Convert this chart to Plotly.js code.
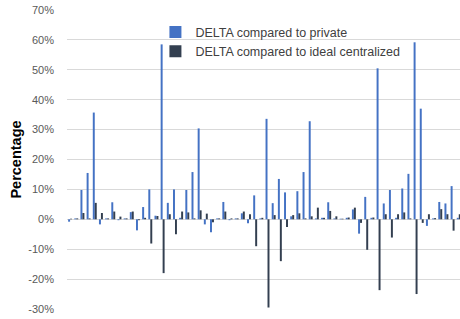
<!DOCTYPE html>
<html>
<head>
<meta charset="utf-8">
<script src="https://cdn.plot.ly/plotly-3.0.1.min.js"></script>
<style>html,body{margin:0;padding:0;background:#fff;}#chart{width:460px;height:319px;}</style>
</head>
<body>
<div id="chart"></div>
<script>
var categories = [];
for (var i = 1; i <= 64; i++) categories.push(String(i));

var seriesNames = ["DELTA compared to private", "DELTA compared to ideal centralized"];

var deltaPrivate = [
  -0.8, 0.3, 9.8, 15.5, 35.7, -1.7, 0.3, 5.7, -0.3, 0.3,
  2.4, -3.7, 4.1, 10.0, 1.2, 58.5, 5.5, 10.0, 0.5, 9.8,
  15.8, 30.4, -1.7, -4.3, 0.3, 5.8, -0.3, 0.3, 2.0, -1.3,
  8.0, 0.3, 33.6, 5.4, 13.5, 9.0, 1.0, 9.4, 15.8, 32.8,
  0.3, 0.5, 5.7, 0.3, 0.2, 0.5, 3.3, -4.8, 7.5, 0.5,
  50.5, 5.3, 9.8, 0.5, 10.3, 15.2, 59.2, 37.0, -2.2, 0.3,
  5.8, 5.3, 11.1, 0.5
];

var deltaIdeal = [
  0.2, 0.3, 2.1, 0.3, 5.5, 2.1, 0.3, 2.6, 0.9, 0.3,
  2.6, -0.3, 0.5, -8.1, 1.1, -18.0, 1.7, -5.0, 2.6, 2.3,
  0.3, 3.0, 1.9, -1.0, 0.3, 2.6, 0.3, 0.3, 2.6, 1.7,
  -9.0, 0.5, -29.5, 1.4, -14.0, -2.6, 1.4, 2.0, 0.3, 1.0,
  3.9, 0.5, 2.8, 1.0, 0.2, 0.6, 3.9, -1.2, -10.2, 0.6,
  -23.7, 1.7, -6.1, 1.7, 2.3, 0.3, -25.0, -1.2, 1.7, 0.4,
  3.4, 1.7, -3.8, 1.7
];

var yTickVals = [-30, -20, -10, 0, 10, 20, 30, 40, 50, 60, 70];
var yTickText = ["-30%", "-20%", "-10%", "0%", "10%", "20%", "30%", "40%", "50%", "60%", "70%"];

var traces = [
  {type: "bar", name: seriesNames[0], x: categories, y: deltaPrivate,
   marker: {color: "#4472C4"}, hoverinfo: "skip"},
  {type: "bar", name: seriesNames[1], x: categories, y: deltaIdeal,
   marker: {color: "#333F50"}, hoverinfo: "skip"}
];

var layout = {
  width: 460, height: 319,
  margin: {l: 67, r: 0, t: 10, b: 10.4, pad: 0},
  paper_bgcolor: "#ffffff", plot_bgcolor: "#ffffff",
  font: {family: "Liberation Sans, Arial, sans-serif", size: 11, color: "#595959"},
  barmode: "group", bargap: 0.36, bargroupgap: 0,
  showlegend: true,
  legend: {x: 0.225, y: 0.975, xanchor: "left", yanchor: "top",
           bgcolor: "rgba(0,0,0,0)", font: {size: 12.5, color: "#404040"},
           tracegroupgap: 0},
  xaxis: {type: "category", range: [-0.5, 63.2], showticklabels: false,
          showgrid: false, zeroline: false, showline: false, ticks: "",
          fixedrange: true},
  yaxis: {range: [-30, 70], tickvals: yTickVals, ticktext: yTickText,
          showgrid: true, gridcolor: "#D9D9D9", gridwidth: 1,
          zeroline: true, zerolinecolor: "#D9D9D9", zerolinewidth: 1,
          showline: false, ticks: "", ticklabelstandoff: 12,
          tickfont: {size: 11, color: "#595959"},
          title: {text: "Percentage", font: {size: 14.5, color: "#000000", family: "Liberation Sans, Arial, sans-serif", weight: "bold"}, standoff: 3},
          automargin: false, fixedrange: true}
};

Plotly.newPlot("chart", traces, layout, {displayModeBar: false, staticPlot: true});
</script>
</body>
</html>
